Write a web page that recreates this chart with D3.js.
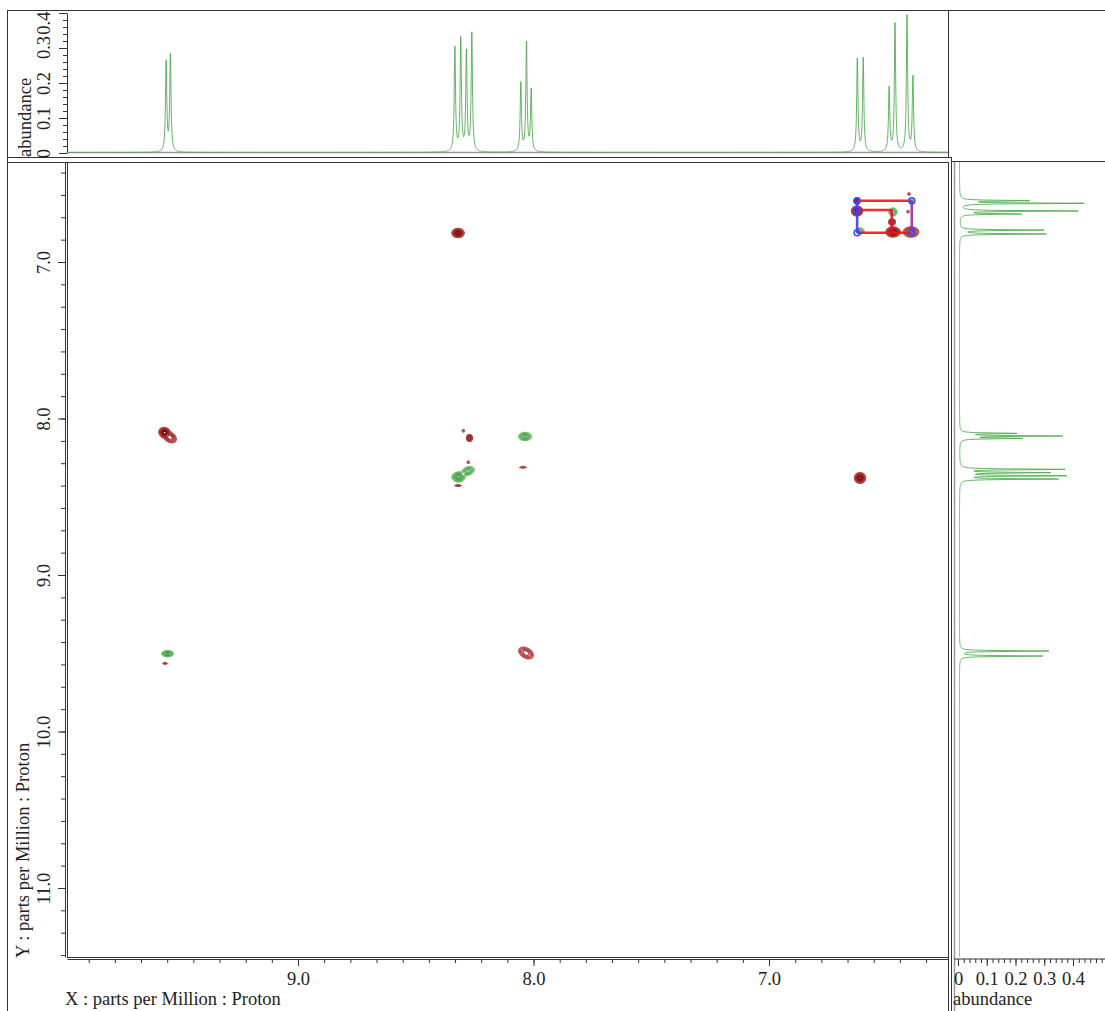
<!DOCTYPE html>
<html><head><meta charset="utf-8">
<script src="https://cdn.jsdelivr.net/npm/d3@7"></script>
<style>
html,body{margin:0;padding:0;background:#fff;}
svg{display:block;}
text{font-family:"Liberation Serif","Times New Roman",serif;fill:#222;}
</style></head><body>
<svg id="chart" width="1105" height="1011"></svg>
<script>
// ---------------- DATA ----------------
const xMajorTicks = [9.0, 8.0, 7.0];
const yMajorTicks = [7.0, 8.0, 9.0, 10.0, 11.0];
const topAbundTicks = [0, 0.1, 0.2, 0.3, 0.4];
const rightAbundTicks = [0, 0.1, 0.2, 0.3, 0.4];
const xMinorPerMajor = 9;
const yMinorPerMajor = 7;
const xAxisTitle = "X : parts per Million : Proton";
const yAxisTitle = "Y : parts per Million : Proton";
const abundTitle = "abundance";

// 1D projection along X (top panel): peak positions (ppm) and heights
const topPeakPpm    = [9.560, 9.542, 8.334, 8.309, 8.285, 8.262, 8.054, 8.030, 8.010, 6.625, 6.600, 6.490, 6.465, 6.414, 6.389];
const topPeakHeight = [0.261, 0.282, 0.304, 0.320, 0.287, 0.340, 0.197, 0.311, 0.178, 0.268, 0.268, 0.187, 0.366, 0.389, 0.217];

// 1D projection along Y (right panel)
const rightPeakPpm    = [9.518, 9.486, 8.387, 8.366, 8.346, 8.325, 8.127, 8.112, 8.095, 6.821, 6.796, 6.693, 6.674, 6.625, 6.608];
const rightPeakHeight = [0.292, 0.313, 0.343, 0.361, 0.320, 0.382, 0.222, 0.348, 0.202, 0.299, 0.299, 0.209, 0.407, 0.435, 0.242];

// 2D cross peaks: X ppm, Y ppm, signed amplitude, width X (ppm), width Y (ppm), tilt (deg)
const crossX    = [8.3206, 9.567, 9.5435, 8.2718, 8.0361, 8.3185, 8.2781, 8.3206, 8.0446, 6.6136, 9.5541, 9.5648, 8.0318, 6.6263, 6.6263, 6.6136, 6.4735, 6.4735, 6.3970, 6.3928, 6.4777, 6.4098, 6.4055, 8.2981, 8.2769];
const crossY    = [6.8147, 8.0895, 8.1210, 8.1246, 8.1150, 8.3738, 8.3355, 8.4294, 8.3118, 8.3802, 9.5029, 9.5642, 9.4984, 6.6102, 6.6741, 6.8019, 6.6805, 6.8083, 6.8083, 6.6166, 6.7444, 6.6786, 6.5655, 8.0780, 8.2799];
const crossAmp  = [-1.0, -1.0, -0.45, -0.6, 0.8, 1.0, 0.7, -0.25, -0.15, -1.0, 0.8, -0.25, -0.35, -0.7, -1.0, 0.5, 0.6, -1.0, -0.45, 0.35, -0.5, -0.12, -0.12, -0.12, -0.12];
const crossWX   = [0.0115, 0.0106, 0.0149, 0.0064, 0.0128, 0.0123, 0.0132, 0.0085, 0.0115, 0.0104, 0.0119, 0.0055, 0.0191, 0.0062, 0.0104, 0.0089, 0.0085, 0.0132, 0.0170, 0.0062, 0.0076, 0.0055, 0.0055, 0.0055, 0.0055];
const crossWY   = [0.0128, 0.0141, 0.0160, 0.0112, 0.0121, 0.0141, 0.0123, 0.0032, 0.0045, 0.0150, 0.0089, 0.0032, 0.0179, 0.0093, 0.0141, 0.0102, 0.0128, 0.0141, 0.0173, 0.0093, 0.0102, 0.0083, 0.0083, 0.0083, 0.0083];
const crossTilt = [0, 25, 30, 0, 0, 0, -20, 0, 0, 0, 0, 0, 30, 0, 0, 0, 0, 0, 0, 0, 0, 0, 0, 0, 0];

// Spin-system annotation (segments in ppm) and its marker points
const segX1 = [6.626, 6.394, 6.394, 6.626, 6.626, 6.479];
const segY1 = [6.608, 6.608, 6.813, 6.813, 6.668, 6.668];
const segX2 = [6.394, 6.394, 6.626, 6.626, 6.479, 6.479];
const segY2 = [6.608, 6.813, 6.813, 6.608, 6.668, 6.813];
const segColor = ["#ff1010", "#9a2aa8", "#ff1010", "#3b3bff", "#ff1010", "#e01030"];
const markX = [6.626, 6.626, 6.626, 6.394, 6.394];
const markY = [6.608, 6.668, 6.813, 6.608, 6.813];

// ---------------- LAYOUT ----------------
const M = {l: 67, r: 948, t: 162, b: 957};
const FS = 18.5;
const svg = d3.select("#chart");
const x = d3.scaleLinear().domain([9.981, 6.240]).range([M.l, M.r]);
const y = d3.scaleLinear().domain([6.361, 11.441]).range([M.t, M.b]);
const yTop = d3.scaleLinear().domain([0, 0.4]).range([153, 13]);
const xRight = d3.scaleLinear().domain([0, 0.4]).range([958, 1073]);
const axisCol = "#333";
const specCol = "#4aa84a";

const defs = svg.append("defs");
defs.append("clipPath").attr("id","clipMain").append("rect")
  .attr("x", M.l).attr("y", M.t).attr("width", M.r - M.l).attr("height", M.b - M.t);
defs.append("clipPath").attr("id","clipTop").append("rect")
  .attr("x", M.l).attr("y", 10).attr("width", M.r - M.l).attr("height", 147);
defs.append("clipPath").attr("id","clipTopLab").append("rect")
  .attr("x", 0).attr("y", 11).attr("width", 70).attr("height", 150);
defs.append("clipPath").attr("id","clipRight").append("rect")
  .attr("x", 955).attr("y", M.t).attr("width", 150).attr("height", M.b - M.t);

// outer frame lines
const frame = svg.append("g").attr("fill","none").attr("stroke", axisCol).attr("stroke-width",1);
frame.append("line").attr("x1",7.5).attr("x2",7.5).attr("y1",10).attr("y2",1011);
frame.append("line").attr("x1",7.5).attr("x2",1105).attr("y1",10.5).attr("y2",10.5);
frame.append("line").attr("x1",948.5).attr("x2",948.5).attr("y1",10).attr("y2",157);
frame.append("line").attr("x1",7.5).attr("x2",951).attr("y1",157.5).attr("y2",157.5);
frame.append("line").attr("x1",M.l).attr("x2",M.r).attr("y1",152.5).attr("y2",152.5).attr("stroke","#999").attr("stroke-width",1.5);
frame.append("line").attr("x1",7.5).attr("x2",M.r).attr("y1",M.t+0.5).attr("y2",M.t+0.5);
frame.append("line").attr("x1",M.l+0.5).attr("x2",M.l+0.5).attr("y1",M.t).attr("y2",M.b);
frame.append("line").attr("x1",M.l).attr("x2",M.r).attr("y1",M.b+0.5).attr("y2",M.b+0.5);
frame.append("line").attr("x1",M.r+0.5).attr("x2",M.r+0.5).attr("y1",M.t).attr("y2",1011);
frame.append("line").attr("x1",951.5).attr("x2",951.5).attr("y1",157).attr("y2",1011);
frame.append("line").attr("x1",951).attr("x2",1105).attr("y1",M.t-0.5).attr("y2",M.t-0.5);
frame.append("line").attr("x1",954.5).attr("x2",954.5).attr("y1",M.t).attr("y2",1011).attr("stroke","#999").attr("stroke-width",1.5);

// ---------------- AXES ----------------
function stepTicks(lo, hi, step) {
  const out = [];
  const a = Math.ceil(Math.min(lo,hi)/step - 1e-9), b = Math.floor(Math.max(lo,hi)/step + 1e-9);
  for (let i = a; i <= b; i++) out.push(i*step);
  return out;
}
const fmtAb = d => d === 0 ? "0" : d3.format(".1f")(d);

// main X axis
svg.append("g").attr("transform", `translate(0,${M.b+2})`)
  .call(d3.axisBottom(x).tickValues(stepTicks(6.24, 9.98, 1/xMinorPerMajor)).tickSize(4).tickSizeOuter(0).tickFormat(""));
svg.append("g").attr("transform", `translate(0,${M.b+2})`)
  .call(d3.axisBottom(x).tickValues(xMajorTicks).tickSize(7).tickFormat(d3.format(".1f")))
  .call(g => g.select(".domain").remove())
  .call(g => g.selectAll("text").attr("font-size", FS).attr("dy", "0.85em"));
svg.append("text").attr("x", 65).attr("y", 1005).attr("font-size", FS).text(xAxisTitle);

// main Y axis
svg.append("g").attr("transform", `translate(${M.l-2},0)`)
  .call(d3.axisLeft(y).tickValues(stepTicks(6.361, 11.441, 1/yMinorPerMajor)).tickSize(4).tickSizeOuter(0).tickFormat(""));
svg.append("g").attr("transform", `translate(${M.l-2},0)`)
  .call(d3.axisLeft(y).tickValues(yMajorTicks).tickSize(7).tickFormat(d3.format(".1f")))
  .call(g => g.select(".domain").remove())
  .call(g => g.selectAll(".tick text").attr("font-size", FS).attr("x", 0).attr("dy", 0)
     .attr("text-anchor","middle").attr("transform","translate(-15,0) rotate(-90)"));
svg.append("text").attr("transform","translate(29,958) rotate(-90)").attr("font-size", FS).text(yAxisTitle);

// top panel Y axis
const gtOuter = svg.append("g").attr("clip-path","url(#clipTopLab)");
const gt = gtOuter.append("g").attr("transform", `translate(${M.l},0)`);
gt.append("g").call(d3.axisLeft(yTop).tickValues(stepTicks(0, 0.41, 0.02)).tickSize(4).tickSizeOuter(0).tickFormat(""));
gt.append("g").call(d3.axisLeft(yTop).tickValues(topAbundTicks).tickSize(8).tickFormat(fmtAb))
  .call(g => g.select(".domain").remove())
  .call(g => g.selectAll(".tick text").attr("font-size", FS).attr("x", 0).attr("dy", 0)
     .attr("text-anchor", d => d >= 0.4 ? "end" : "middle")
     .attr("transform", d => d >= 0.4 ? `translate(-17,${11 - yTop(d)}) rotate(-90)`
                              : d >= 0.3 ? `translate(-17,-1) rotate(-90)` : "translate(-17,0) rotate(-90)"));
svg.append("text").attr("transform","translate(31,157) rotate(-90)").attr("font-size", FS).text(abundTitle);

// right panel X axis
svg.append("g").attr("transform", `translate(0,${M.b+2})`)
  .call(d3.axisBottom(xRight).tickValues(stepTicks(0, 0.5, 0.02).filter(v => xRight(v) < 1104)).tickSize(4).tickSizeOuter(0).tickFormat(""))
  .call(g => g.select(".domain").attr("d", `M954,0H1105`));
svg.append("g").attr("transform", `translate(0,${M.b+2})`)
  .call(d3.axisBottom(xRight).tickValues(rightAbundTicks).tickSize(7).tickFormat(fmtAb))
  .call(g => g.select(".domain").remove())
  .call(g => g.selectAll("text").attr("font-size", FS).attr("dy", "0.85em"));
svg.append("text").attr("x", 953).attr("y", 1005).attr("font-size", FS).text(abundTitle);
svg.selectAll("g .tick line, g .domain").attr("stroke", axisCol);
svg.selectAll("g .tick text").style("font-family", '"Liberation Serif", serif').attr("fill","#222");

// ---------------- 1D SPECTRA ----------------
function lorentz(ppm, centers, heights, gamma, base) {
  let s = base;
  for (let i = 0; i < centers.length; i++) {
    const d = (ppm - centers[i]) / gamma;
    s += heights[i] / (1 + d*d);
  }
  return s;
}
const topPts = [];
for (let px = M.l; px <= M.r; px += 0.25) {
  topPts.push([px, yTop(lorentz(x.invert(px), topPeakPpm, topPeakHeight, 0.0032, 0.0015))]);
}
svg.append("path").attr("clip-path","url(#clipTop)")
  .attr("d", d3.line()(topPts)).attr("fill","none").attr("stroke", specCol).attr("stroke-width",1).attr("stroke-opacity",0.85);

const rightPts = [];
for (let py = M.t; py <= M.b; py += 0.25) {
  rightPts.push([xRight(lorentz(y.invert(py), rightPeakPpm, rightPeakHeight, 0.0028, 0.005)), py]);
}
svg.append("path").attr("clip-path","url(#clipRight)")
  .attr("d", d3.line()(rightPts)).attr("fill","none").attr("stroke", specCol).attr("stroke-width",1).attr("stroke-opacity",0.85);

// ---------------- 2D CONTOURS ----------------
const W = M.r - M.l, H = M.b - M.t;
const grid = new Float64Array(W * H);
for (let k = 0; k < crossX.length; k++) {
  const cx = x(crossX[k]) - M.l, cy = y(crossY[k]) - M.t;
  const sx = Math.abs(x(crossX[k] + crossWX[k]) - x(crossX[k]));
  const sy = Math.abs(y(crossY[k] + crossWY[k]) - y(crossY[k]));
  const th = crossTilt[k] * Math.PI / 180, c = Math.cos(th), s = Math.sin(th);
  const R = Math.ceil(4 * Math.max(sx, sy)) + 2;
  for (let j = Math.max(0, Math.floor(cy - R)); j < Math.min(H, cy + R); j++) {
    for (let i = Math.max(0, Math.floor(cx - R)); i < Math.min(W, cx + R); i++) {
      const dx = i + 0.5 - cx, dy = j + 0.5 - cy;
      const u = (dx * c + dy * s) / sx, v = (-dx * s + dy * c) / sy;
      grid[j * W + i] += crossAmp[k] * Math.exp(-0.5 * (u*u + v*v));
    }
  }
}
const levels = [0.07, 0.1, 0.14, 0.2, 0.27, 0.36, 0.47, 0.6, 0.74, 0.88];
const negCols = d3.scaleLinear().domain([0, levels.length-1]).range(["#c05858", "#7a0000"]);
const posCols = d3.scaleLinear().domain([0, levels.length-1]).range(["#78c478", "#2a8a2a"]);
const negGrid = Array.from(grid, v => -v);
const contours = d3.contours().size([W, H]).thresholds(levels);
const gc = svg.append("g").attr("clip-path","url(#clipMain)")
  .append("g").attr("transform", `translate(${M.l},${M.t})`);
const path = d3.geoPath();
gc.selectAll("path.neg").data(contours(negGrid)).join("path").attr("class","neg")
  .attr("d", path).attr("fill","none").attr("stroke", (d,i) => negCols(i)).attr("stroke-width", 1.1);
gc.selectAll("path.pos").data(contours(Array.from(grid))).join("path").attr("class","pos")
  .attr("d", path).attr("fill","none").attr("stroke", (d,i) => posCols(i)).attr("stroke-width", 1);

// ---------------- ANNOTATION ----------------
const ga = svg.append("g").attr("clip-path","url(#clipMain)");
ga.selectAll("line").data(d3.range(segX1.length)).join("line")
  .attr("x1", i => x(segX1[i])).attr("y1", i => y(segY1[i]))
  .attr("x2", i => x(segX2[i])).attr("y2", i => y(segY2[i]))
  .attr("stroke", i => segColor[i]).attr("stroke-width", 2.5).attr("stroke-opacity", 0.9);
ga.selectAll("circle").data(d3.range(markX.length)).join("circle")
  .attr("cx", i => x(markX[i])).attr("cy", i => y(markY[i])).attr("r", 3)
  .attr("fill","none").attr("stroke","#3050ff").attr("stroke-width",1.5);
</script>
</body></html>
